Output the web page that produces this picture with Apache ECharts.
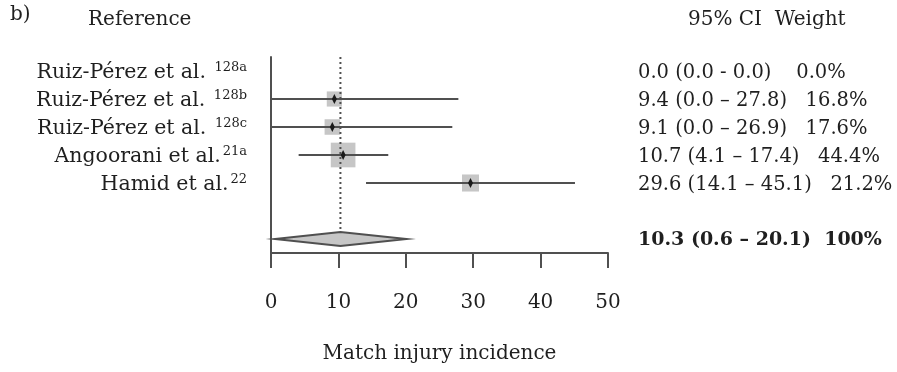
<!DOCTYPE html>
<html>
<head>
<meta charset="utf-8">
<script src="https://cdn.jsdelivr.net/npm/echarts@6/dist/echarts.min.js"></script>
<style>
  html, body { margin: 0; padding: 0; background: #fff; }
  #chart { width: 897px; height: 372px; }
</style>
</head>
<body>
<div id="chart"></div>
<script>
// Study rows (top to bottom)
const studyNames = ['Ruiz-Pérez et al.', 'Ruiz-Pérez et al.', 'Ruiz-Pérez et al.', 'Angoorani et al.', 'Hamid et al.'];
const refMarks = ['128a', '128b', '128c', '21a', '22'];
const refSpacer = [' ', ' ', ' ', '', ''];
const estimate = [0.0, 9.4, 9.1, 10.7, 29.6];
const ciLow = [0.0, 0.0, 0.0, 4.1, 14.1];
const ciHigh = [0.0, 27.8, 26.9, 17.4, 45.1];
const weight = [0.0, 16.8, 17.6, 44.4, 21.2];
const ciDash = ['-', '–', '–', '–', '–'];
const colGap = ['    ', '   ', '   ', '   ', '   '];

// Pooled estimate
const pooledEstimate = 10.3;
const pooledLow = 0.6;
const pooledHigh = 20.1;
const pooledWeight = '100%';

// x axis
const xMin = 0, xMax = 50, xStep = 10;

const FONT = 'DejaVu Serif';
const INK = '#1f1f1f';
const LINE = '#505050';

// rows: 5 studies, a spacer row, then the pooled row
const rowKeys = studyNames.map((n, i) => 's' + i).concat(['gap', 'pooled']);
const pooledRow = rowKeys.length - 1;

const fmt = v => v.toFixed(1);
const rightLabels = estimate.map((e, i) =>
  `{r|${fmt(e)} (${fmt(ciLow[i])} ${ciDash[i]} ${fmt(ciHigh[i])})${colGap[i]}${fmt(weight[i])}%}`
).concat(['', `{b|${fmt(pooledEstimate)} (${fmt(pooledLow)} – ${fmt(pooledHigh)})  ${pooledWeight}}`]);

const studyData = estimate.map((e, i) => [i, e, ciLow[i], ciHigh[i], weight[i]]);

function renderStudy(params, api) {
  const row = api.value(0);
  const est = api.value(1), lo = api.value(2), hi = api.value(3), w = api.value(4);
  const children = [];
  if (w > 0) {
    const pLo = api.coord([lo, row]);
    const pHi = api.coord([hi, row]);
    const pEst = api.coord([est, row]);
    const side = Math.sqrt(w) * 3.7;
    children.push({
      type: 'rect',
      shape: { x: pEst[0] - side / 2, y: pEst[1] - side / 2, width: side, height: side },
      style: { fill: '#c6c6c6' }
    });
    children.push({
      type: 'line',
      shape: { x1: pLo[0], y1: pLo[1], x2: pHi[0], y2: pHi[1] },
      style: { stroke: LINE, lineWidth: 2 }
    });
    children.push({
      type: 'polygon',
      shape: { points: [[pEst[0], pEst[1] - 5], [pEst[0] + 2.5, pEst[1]], [pEst[0], pEst[1] + 5], [pEst[0] - 2.5, pEst[1]]] },
      style: { fill: '#1a1a1a' }
    });
  }
  return { type: 'group', children };
}

function renderPooled(params, api) {
  const row = api.value(0);
  const est = api.value(1), lo = api.value(2), hi = api.value(3);
  const band = api.size([0, 1])[1];
  const c = api.coord([est, row]);
  const l = api.coord([lo, row]);
  const h = api.coord([hi, row]);
  const top = api.coord([est, 0])[1] - band / 2;
  const half = 7;
  return {
    type: 'group',
    children: [
      {
        type: 'line',
        shape: { x1: c[0], y1: top, x2: c[0], y2: c[1] - half },
        style: { stroke: LINE, lineWidth: 2, lineDash: [2, 3] }
      },
      {
        type: 'polygon',
        shape: { points: [[l[0], l[1]], [c[0], c[1] - half], [h[0], h[1]], [c[0], c[1] + half]] },
        style: { fill: '#c6c6c6', stroke: LINE, lineWidth: 2 }
      }
    ]
  };
}

const chart = echarts.init(document.getElementById('chart'));
chart.setOption({
  animation: false,
  backgroundColor: '#fff',
  textStyle: { fontFamily: FONT, color: INK },
  grid: { left: 271, right: 289, top: 57, bottom: 119, containLabel: false, outerBoundsMode: 'none' },
  xAxis: {
    type: 'value',
    min: xMin, max: xMax, interval: xStep,
    splitLine: { show: false },
    axisLine: { show: true, lineStyle: { color: LINE, width: 2 } },
    axisTick: { show: true, length: 15, lineStyle: { color: LINE, width: 2 } },
    axisLabel: { margin: 40, fontSize: 20, fontFamily: FONT, color: INK },
    name: 'Match injury incidence',
    nameLocation: 'middle',
    nameGap: 91,
    nameTextStyle: { fontSize: 20, fontFamily: FONT, color: INK }
  },
  yAxis: [
    {
      type: 'category',
      inverse: true,
      data: rowKeys,
      axisLine: { show: true, onZero: false, lineStyle: { color: LINE, width: 2 } },
      axisTick: { show: false },
      splitLine: { show: false },
      axisLabel: {
        margin: 24,
        formatter: (v, i) => i < studyNames.length ? `{n|${studyNames[i]}${refSpacer[i]}}{s|${refMarks[i]}}` : '',
        rich: {
          n: { fontSize: 20.5, fontFamily: FONT, color: INK, lineHeight: 24, padding: [4, 0, 0, 0] },
          s: { fontSize: 13, fontFamily: FONT, color: INK, verticalAlign: 'top', lineHeight: 14, padding: [2, 0, 0, 2] }
        }
      }
    },
    {
      type: 'category',
      inverse: true,
      position: 'right',
      data: rowKeys,
      axisLine: { show: false },
      axisTick: { show: false },
      splitLine: { show: false },
      axisLabel: {
        margin: 30,
        formatter: (v, i) => rightLabels[i],
        rich: {
          r: { fontSize: 19.5, fontFamily: FONT, color: INK, padding: [3, 0, 0, 0] },
          b: { fontSize: 19, fontFamily: FONT, fontWeight: 'bold', color: INK, padding: [3, 0, 0, 0] }
        }
      }
    }
  ],
  graphic: [
    { type: 'text', left: 10, top: 5, style: { text: 'b)', font: '20px "DejaVu Serif"', fill: INK } },
    { type: 'text', left: 88, top: 10, style: { text: 'Reference', font: '20px "DejaVu Serif"', fill: INK } },
    { type: 'text', left: 688, top: 10, style: { text: '95% CI  Weight', font: '20px "DejaVu Serif"', fill: INK } }
  ],
  series: [
    {
      type: 'custom',
      name: 'Studies',
      renderItem: renderStudy,
      encode: { x: [1, 2, 3], y: 0 },
      clip: false,
      data: studyData
    },
    {
      type: 'custom',
      name: 'Pooled',
      renderItem: renderPooled,
      encode: { x: [1, 2, 3], y: 0 },
      clip: false,
      data: [[pooledRow, pooledEstimate, pooledLow, pooledHigh]]
    }
  ]
});
</script>
</body>
</html>
